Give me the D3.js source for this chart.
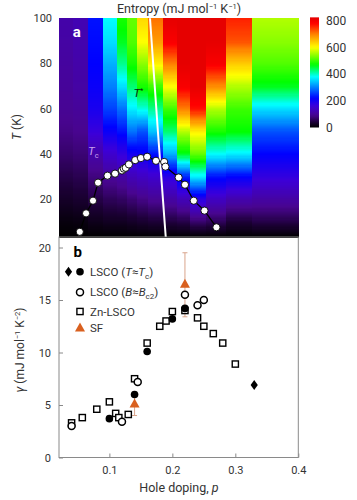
<!DOCTYPE html>
<html><head><meta charset="utf-8">
<script src="https://cdn.jsdelivr.net/npm/d3@7"></script>
<style>
body{margin:0;background:#fff;}
svg{display:block;font-family:Roboto, "Noto Sans", sans-serif;}
</style></head>
<body><svg id="c" width="357" height="500"></svg>
<script>
// ---------- DATA ----------
// panel a: heat-map columns (doping edges) and entropy at temperature levels
const pEdges = [0.02, 0.042, 0.066, 0.09, 0.112, 0.128, 0.144, 0.161, 0.185, 0.207, 0.228, 0.253, 0.285, 0.326, 0.40];
const tLevels = [3, 10, 20, 30, 40, 50, 60, 70, 80, 90, 100];
const entropy = [
  [0, 10, 30, 50, 70, 85, 95, 100, 105, 110, 115],
  [0, 12, 35, 55, 75, 90, 100, 110, 115, 120, 125],
  [0, 20, 50, 80, 115, 165, 195, 210, 220, 225, 230],
  [0, 25, 60, 100, 150, 210, 260, 300, 330, 360, 380],
  [0, 25, 65, 110, 170, 230, 290, 360, 420, 460, 480],
  [0, 30, 75, 130, 200, 290, 370, 430, 480, 510, 520],
  [0, 35, 85, 140, 210, 270, 390, 480, 540, 600, 630],
  [0, 40, 95, 150, 230, 340, 420, 500, 610, 680, 710],
  [0, 45, 110, 180, 330, 430, 500, 600, 700, 790, 820],
  [0, 50, 130, 240, 460, 560, 700, 790, 820, 820, 820],
  [0, 70, 180, 370, 520, 610, 770, 820, 820, 820, 820],
  [0, 60, 140, 230, 380, 480, 560, 690, 790, 820, 820],
  [0, 40, 120, 220, 370, 470, 500, 560, 640, 730, 760],
  [0, 50, 110, 170, 220, 270, 360, 460, 510, 540, 560]
];
const tcP = [0.053, 0.063, 0.074, 0.082, 0.097, 0.109, 0.120, 0.123, 0.126, 0.131, 0.141, 0.150, 0.160, 0.174, 0.187, 0.189, 0.210, 0.220, 0.234, 0.251, 0.270];
const tcT = [5.3, 13.5, 19.1, 27.1, 30.2, 31.1, 32.5, 33.3, 33.7, 35.2, 37.1, 38.0, 38.6, 36.8, 36.3, 34.2, 29.4, 26.2, 19.1, 14.7, 7.3];
const tStarP = [0.1645, 0.177, 0.1895];
const tStarT = [100, 50, 3];
const cbTicks = [0, 200, 400, 600, 800];
const tTicks = [20, 40, 60, 80, 100];
// colour map (value -> colour)
const cmapVals = [0, 40, 90, 160, 220, 300, 380, 470, 600, 700, 780, 830];
const cmapCols = ["#000000", "#1c0036", "#48058f", "#3c00d8", "#0000ff", "#0080ff", "#00ffff", "#00ff00", "#ffff00", "#ff8000", "#ff0000", "#e00000"];

// panel b
const lscoTcP = [0.10, 0.14, 0.16, 0.20, 0.22];
const lscoTcG = [3.7, 6.0, 10.1, 13.2, 14.2];
const diamondP = [0.33];
const diamondG = [6.9];
const lscoBcP = [0.04, 0.12, 0.145, 0.22, 0.24, 0.25];
const lscoBcG = [3.0, 3.4, 7.2, 15.5, 14.5, 15.0];
const znP = [0.04, 0.057, 0.08, 0.10, 0.11, 0.115, 0.13, 0.14, 0.16, 0.18, 0.19, 0.20, 0.22, 0.24, 0.25, 0.265, 0.28, 0.30];
const znG = [3.3, 3.8, 4.6, 5.3, 4.2, 3.8, 4.1, 7.5, 10.9, 12.5, 13.0, 13.9, 14.0, 13.3, 12.5, 11.8, 10.9, 8.9];
const sfP = [0.14, 0.22];
const sfG = [5.1, 16.5];
const sfLo = [4.0, 13.4];
const sfHi = [6.2, 19.5];
const xTicks = [0.1, 0.2, 0.3, 0.4];
const gTicks = [0, 5, 10, 15, 20];

// ---------- DRAW ----------
const svg = d3.select("#c");
const x = d3.scaleLinear().domain([0.02, 0.40]).range([59, 298.3]);
const yT = d3.scaleLinear().domain([3, 100]).range([237, 18.3]);
const yG = d3.scaleLinear().domain([0, 21]).range([457.5, 237]);
const cmap = d3.scaleLinear().domain(cmapVals).range(cmapCols).interpolate(d3.interpolateRgb).clamp(true);
const textCol = "#333";

// heat map
const hm = svg.append("g").attr("shape-rendering", "crispEdges");
entropy.forEach((row, i) => {
  const f = d3.scaleLinear().domain(tLevels).range(row);
  const steps = d3.range(3, 100, 0.5);
  hm.selectAll(null).data(steps).enter().append("rect")
    .attr("x", x(pEdges[i]))
    .attr("width", x(pEdges[i + 1]) - x(pEdges[i]) + 0.5)
    .attr("y", t => yT(t + 0.5))
    .attr("height", t => yT(t) - yT(t + 0.5) + 0.6)
    .attr("fill", t => cmap(f(t + 0.25)));
});

// T* line
svg.append("path")
  .attr("d", d3.line().x(d => x(d[0])).y(d => yT(d[1])).curve(d3.curveMonotoneY)(tStarP.map((p, i) => [p, tStarT[i]])))
  .attr("fill", "none").attr("stroke", "#fff").attr("stroke-width", 2);

// Tc line + dots
const tcPts = tcP.map((p, i) => [p, tcT[i]]);
svg.append("path")
  .attr("d", d3.line().x(d => x(d[0])).y(d => yT(d[1]))(tcPts))
  .attr("fill", "none").attr("stroke", "#000").attr("stroke-width", 1.3);
svg.selectAll(null).data(tcPts).enter().append("circle")
  .attr("cx", d => x(d[0])).attr("cy", d => yT(d[1])).attr("r", 3.6)
  .attr("fill", "#fff").attr("stroke", "#000").attr("stroke-width", 0.9);

// labels in panel a
svg.append("text").attr("x", 76.7).attr("y", 37).attr("text-anchor", "middle")
  .attr("font-size", 15).attr("font-weight", "bold").attr("fill", "#fff").text("a");
const tsl = svg.append("text").attr("x", 133.5).attr("y", 97).attr("font-size", 11.5).attr("fill", "#102010");
tsl.append("tspan").attr("font-style", "italic").text("T");
tsl.append("tspan").attr("dy", -4.5).attr("font-size", 7).text("*");
const tcl = svg.append("text").attr("x", 88).attr("y", 155).attr("font-size", 11.5).attr("fill", "#c9a0f0");
tcl.append("tspan").attr("font-style", "italic").text("T");
tcl.append("tspan").attr("dy", 3).attr("font-size", 7.5).text("c");

// title
const tt = svg.append("text").attr("x", 179).attr("y", 12.5).attr("text-anchor", "middle").attr("font-size", 12.5).attr("fill", textCol);
tt.append("tspan").text("Entropy (mJ mol");
tt.append("tspan").attr("dy", -3.5).attr("font-size", 7.5).text("−1");
tt.append("tspan").attr("dy", 3.5).text(" K");
tt.append("tspan").attr("dy", -3.5).attr("font-size", 7.5).text("−1");
tt.append("tspan").attr("dy", 3.5).text(")");

// T axis (panel a)
const axA = svg.append("g").attr("transform", "translate(59,0)")
  .call(d3.axisLeft(yT).tickValues(tTicks).tickSize(0).tickPadding(7));
axA.select(".domain").remove();
axA.selectAll("text").attr("font-size", 11).attr("fill", textCol).attr("font-family", "Roboto, sans-serif");
const tyl = svg.append("text").attr("transform", "translate(21,127) rotate(-90)").attr("text-anchor", "middle")
  .attr("font-size", 12).attr("fill", textCol);
tyl.append("tspan").attr("font-style", "italic").text("T");
tyl.append("tspan").text(" (K)");

// colour bar
const defs = svg.append("defs");
const cbMax = 825;
const yC = d3.scaleLinear().domain([0, 800]).range([127.5, 20.7]);
const grad = defs.append("linearGradient").attr("id", "cbg").attr("x1", 0).attr("y1", 1).attr("x2", 0).attr("y2", 0);
d3.range(0, 51).forEach(k => {
  grad.append("stop").attr("offset", k / 50).attr("stop-color", cmap(k / 50 * cbMax));
});
svg.append("rect").attr("x", 310).attr("width", 9).attr("y", yC(cbMax)).attr("height", yC(0) - yC(cbMax)).attr("fill", "url(#cbg)");
const axC = svg.append("g").attr("transform", "translate(319,0)")
  .call(d3.axisRight(yC).tickValues(cbTicks).tickSize(0).tickPadding(7));
axC.select(".domain").remove();
axC.selectAll("text").attr("font-size", 12).attr("fill", textCol).attr("font-family", "Roboto, sans-serif");

// ---------- panel b ----------
svg.append("rect").attr("x", 59).attr("y", 237).attr("width", 298.3 - 59).attr("height", 457.5 - 237)
  .attr("fill", "none").attr("stroke", "#8a8a8a").attr("stroke-width", 1);
const axX = svg.append("g").attr("transform", "translate(0,457.5)")
  .call(d3.axisTop(x).tickValues(xTicks).tickSize(4).tickFormat(d3.format(".1f")));
axX.select(".domain").remove();
axX.selectAll("line").attr("stroke", "#8a8a8a");
axX.selectAll("text").attr("y", 13).attr("dy", "0.32em").attr("font-size", 11).attr("fill", textCol).attr("font-family", "Roboto, sans-serif");
const axY = svg.append("g").attr("transform", "translate(59,0)")
  .call(d3.axisRight(yG).tickValues(gTicks).tickSize(4));
axY.select(".domain").remove();
axY.selectAll("line").attr("stroke", "#8a8a8a");
axY.selectAll("text").attr("x", -8).attr("text-anchor", "end").attr("font-size", 11).attr("fill", textCol).attr("font-family", "Roboto, sans-serif");
// axis titles
svg.append("text").attr("x", 179).attr("y", 492).attr("text-anchor", "middle").attr("font-size", 12.5).attr("fill", textCol)
  .call(t => { t.append("tspan").text("Hole doping, "); t.append("tspan").attr("font-style", "italic").text("p"); });
const gyl = svg.append("text").attr("transform", "translate(24,350) rotate(-90)").attr("text-anchor", "middle")
  .attr("font-size", 12).attr("fill", textCol);
gyl.append("tspan").attr("font-style", "italic").text("γ");
gyl.append("tspan").text(" (mJ mol");
gyl.append("tspan").attr("dy", -4).attr("font-size", 7.5).text("−1");
gyl.append("tspan").attr("dy", 4).text(" K");
gyl.append("tspan").attr("dy", -4).attr("font-size", 7.5).text("−2");
gyl.append("tspan").attr("dy", 4).text(")");

const orange = "#d9601f";
const sq = 6.2;
// marker helpers
function square(g, cx, cy) {
  g.append("rect").attr("x", cx - sq / 2).attr("y", cy - sq / 2).attr("width", sq).attr("height", sq)
    .attr("fill", "#fff").attr("stroke", "#000").attr("stroke-width", 1.4);
}
function openCircle(g, cx, cy) {
  g.append("circle").attr("cx", cx).attr("cy", cy).attr("r", 3.5).attr("fill", "#fff").attr("stroke", "#000").attr("stroke-width", 1.5);
}
function fullCircle(g, cx, cy) {
  g.append("circle").attr("cx", cx).attr("cy", cy).attr("r", 3.8).attr("fill", "#000");
}
function diamond(g, cx, cy) {
  g.append("path").attr("d", `M${cx},${cy - 5}L${cx + 3.6},${cy}L${cx},${cy + 5}L${cx - 3.6},${cy}Z`).attr("fill", "#000");
}
function triangle(g, cx, cy) {
  g.append("path").attr("d", `M${cx},${cy - 5.5}L${cx + 5},${cy + 3.5}L${cx - 5},${cy + 3.5}Z`).attr("fill", orange);
}
const gb = svg.append("g");
// error bars for SF
sfP.forEach((p, i) => {
  const cx = x(p);
  gb.append("line").attr("x1", cx).attr("x2", cx).attr("y1", yG(sfLo[i])).attr("y2", yG(sfHi[i])).attr("stroke", "#d9a58c").attr("stroke-width", 1);
  [sfLo[i], sfHi[i]].forEach(v => gb.append("line").attr("x1", cx - 2.5).attr("x2", cx + 2.5).attr("y1", yG(v)).attr("y2", yG(v)).attr("stroke", "#d9a58c").attr("stroke-width", 1));
});
znP.forEach((p, i) => square(gb, x(p), yG(znG[i])));
lscoBcP.forEach((p, i) => openCircle(gb, x(p), yG(lscoBcG[i])));
lscoTcP.forEach((p, i) => fullCircle(gb, x(p), yG(lscoTcG[i])));
diamondP.forEach((p, i) => diamond(gb, x(p), yG(diamondG[i])));
sfP.forEach((p, i) => triangle(gb, x(p), yG(sfG[i])));

// panel b label
svg.append("text").attr("x", 77.7).attr("y", 257).attr("text-anchor", "middle")
  .attr("font-size", 15).attr("font-weight", "bold").attr("fill", "#000").text("b");

// legend
const lg = svg.append("g");
diamond(lg, 68.5, 271.7); fullCircle(lg, 80, 271.7);
openCircle(lg, 80, 292.3);
square(lg, 80, 311.5);
triangle(lg, 80, 328);
function legText(y, parts) {
  const t = lg.append("text").attr("x", 90).attr("y", y).attr("dy", "0.35em").attr("font-size", 11.5).attr("fill", textCol);
  parts.forEach(pt => {
    const s = t.append("tspan").text(pt.t);
    if (pt.i) s.attr("font-style", "italic");
    if (pt.sub) s.attr("font-size", 8).attr("dy", 3);
    if (pt.up) s.attr("dy", -3);
  });
}
legText(271.7, [{t: "LSCO ("}, {t: "T", i: 1}, {t: "≈"}, {t: "T", i: 1}, {t: "c", sub: 1}, {t: ")", up: 1}]);
legText(292.3, [{t: "LSCO ("}, {t: "B", i: 1}, {t: "≈"}, {t: "B", i: 1}, {t: "c2", sub: 1}, {t: ")", up: 1}]);
legText(311.5, [{t: "Zn-LSCO"}]);
legText(328, [{t: "SF"}]);
</script>
</body></html>
